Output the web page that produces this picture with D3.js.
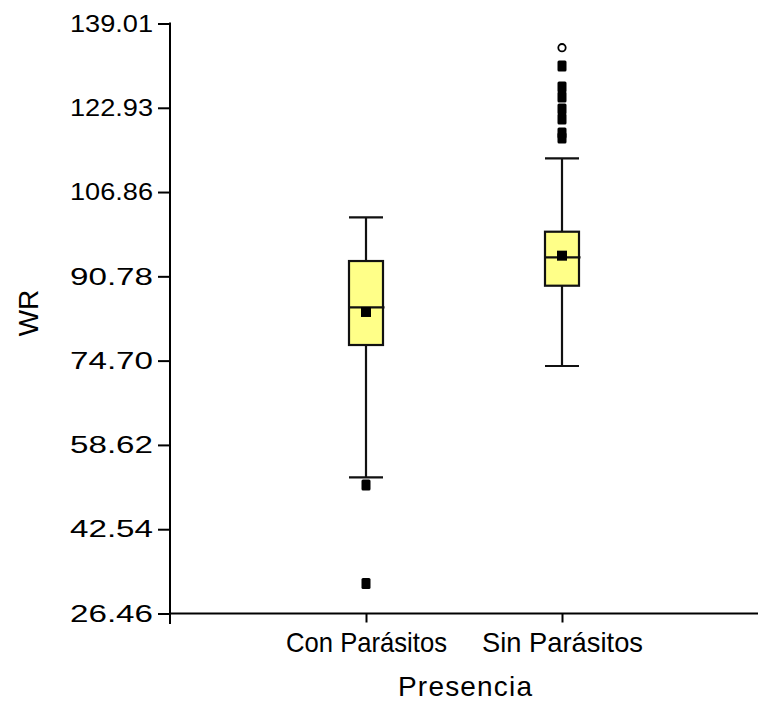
<!DOCTYPE html>
<html>
<head>
<meta charset="utf-8">
<script src="https://cdn.jsdelivr.net/npm/d3@7"></script>
<style>
  html, body { margin: 0; padding: 0; background: #fff; }
  svg { display: block; font-family: "Liberation Sans", Arial, sans-serif; }
</style>
</head>
<body>
<svg id="chart" width="758" height="701"></svg>
<script>
// Box-plot summaries of WR by parasite presence
const categories   = ["Con Parásitos", "Sin Parásitos"];
const whiskerLow   = [52.44, 73.67];
const q1           = [77.68, 88.99];
const median       = [84.87, 94.41];
const q3           = [93.70, 99.29];
const whiskerHigh  = [102.04, 113.29];
const mean         = [83.98, 94.72];
// outliers beyond the whiskers (filled squares) and extreme values (open circles)
const outliers     = [[50.97, 32.18], [130.90, 126.90, 124.99, 122.70, 120.79, 118.12, 117.17]];
const extremes     = [[], [134.39]];
const yTicks       = [26.46, 42.54, 58.62, 74.70, 90.78, 106.86, 122.93, 139.01];

const svg = d3.select("#chart");
const plotLeft = 170, plotRight = 758, plotTop = 23.5, plotBottom = 613.5;

const y = d3.scaleLinear().domain([26.46, 139.01]).range([plotBottom, plotTop]);
const x = d3.scalePoint().domain(categories).range([plotLeft, plotRight]).padding(1);

const boxW = 34, capW = 34;

// Y axis
const yAxis = svg.append("g").attr("transform", `translate(${plotLeft},0)`)
  .call(d3.axisLeft(y).tickValues(yTicks).tickFormat(d3.format(".2f")).tickSize(12).tickPadding(5));
yAxis.select(".domain").remove();
yAxis.selectAll("line").attr("stroke", "#000").attr("stroke-width", 2);
yAxis.selectAll("text").attr("font-size", 24).attr("fill", "#000")
  .attr("font-family", "'Liberation Sans', Arial, sans-serif")
  .attr("textLength", 83).attr("lengthAdjust", "spacingAndGlyphs");
svg.append("line").attr("x1", plotLeft).attr("x2", plotLeft).attr("y1", plotTop - 1).attr("y2", plotBottom + 10.5)
  .attr("stroke", "#000").attr("stroke-width", 2);

// X axis
const xAxis = svg.append("g").attr("transform", `translate(0,${plotBottom})`)
  .call(d3.axisBottom(x).tickSize(9).tickPadding(10));
xAxis.select(".domain").remove();
xAxis.selectAll("line").attr("stroke", "#000").attr("stroke-width", 2);
xAxis.selectAll("text").attr("font-size", 28).attr("fill", "#000")
  .attr("font-family", "'Liberation Sans', Arial, sans-serif")
  .attr("textLength", 161).attr("lengthAdjust", "spacingAndGlyphs");
svg.append("line").attr("x1", plotLeft).attr("x2", plotRight).attr("y1", plotBottom).attr("y2", plotBottom)
  .attr("stroke", "#000").attr("stroke-width", 2);

// Axis titles
svg.append("text").attr("x", 465).attr("y", 696).attr("text-anchor", "middle")
  .attr("font-size", 28).attr("textLength", 134).attr("lengthAdjust", "spacing")
  .text("Presencia");
svg.append("text").attr("transform", "translate(38,313) rotate(-90)").attr("text-anchor", "middle")
  .attr("font-size", 28).text("WR");

// Boxes
const g = svg.append("g");
categories.forEach((c, i) => {
  const cx = x(c);
  const line = (x1, y1, x2, y2) => g.append("line")
    .attr("x1", x1).attr("y1", y1).attr("x2", x2).attr("y2", y2)
    .attr("stroke", "#111").attr("stroke-width", 2.2);
  // whiskers
  line(cx, y(whiskerHigh[i]), cx, y(q3[i]));
  line(cx, y(q1[i]), cx, y(whiskerLow[i]));
  line(cx - capW / 2, y(whiskerHigh[i]), cx + capW / 2, y(whiskerHigh[i]));
  line(cx - capW / 2, y(whiskerLow[i]), cx + capW / 2, y(whiskerLow[i]));
  // box
  g.append("rect").attr("x", cx - boxW / 2).attr("y", y(q3[i]))
    .attr("width", boxW).attr("height", y(q1[i]) - y(q3[i]))
    .attr("fill", "#ffff88").attr("stroke", "#111").attr("stroke-width", 2.2);
  // median
  line(cx - boxW / 2, y(median[i]), cx + boxW / 2 + 1.5, y(median[i]));
  // mean
  g.append("rect").attr("x", cx - 5).attr("y", y(mean[i]) - 5).attr("width", 10).attr("height", 10)
    .attr("fill", "#000");
  // outliers
  outliers[i].forEach(v => {
    g.append("rect").attr("x", cx - 4.5).attr("y", y(v) - 5.5).attr("width", 9).attr("height", 11)
      .attr("rx", 1.5).attr("fill", "#000");
  });
  extremes[i].forEach(v => {
    g.append("circle").attr("cx", cx).attr("cy", y(v)).attr("r", 3.7)
      .attr("fill", "#fff").attr("stroke", "#000").attr("stroke-width", 1.8);
  });
});
</script>
</body>
</html>
